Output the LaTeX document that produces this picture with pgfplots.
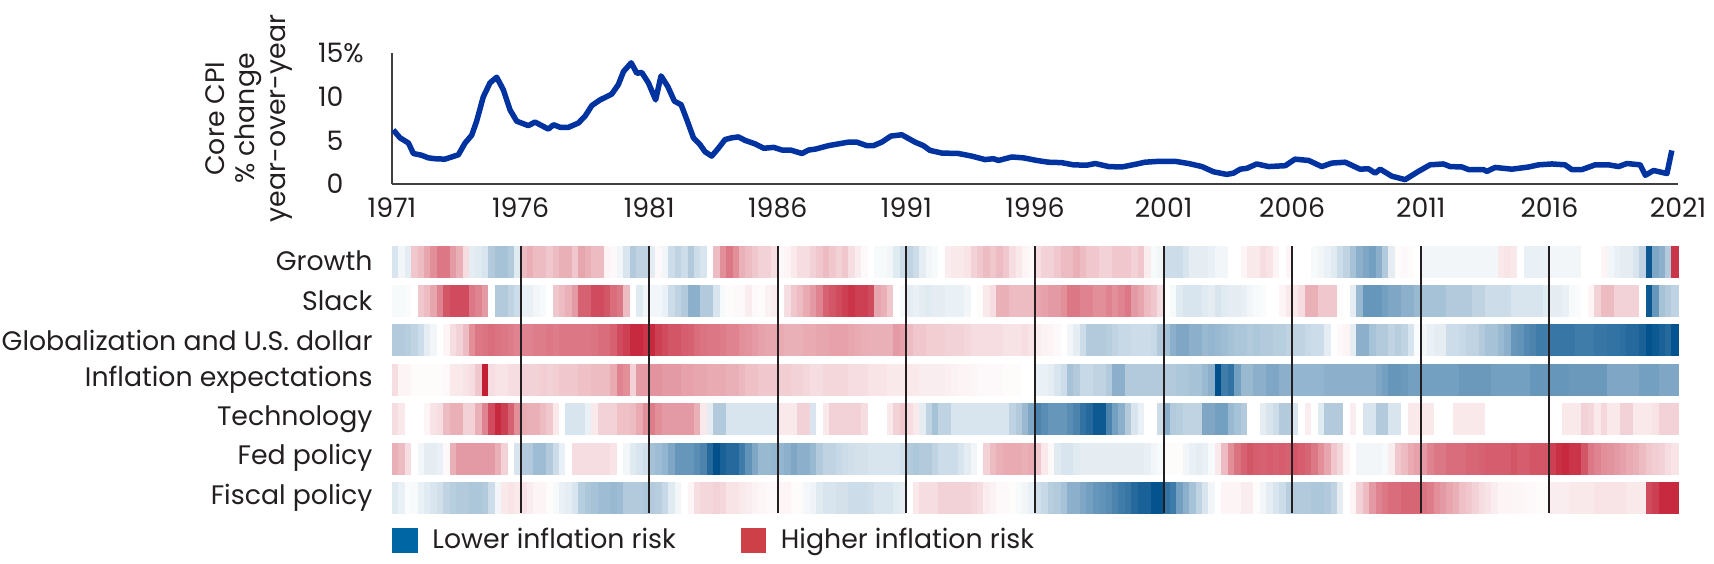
\documentclass[border=0pt]{standalone}
\usepackage{fontspec}
\setmainfont{Poppins}
\usepackage{pgfplots}
\usepackage{pgfplotstable}
\pgfplotsset{compat=1.18}
\definecolor{cpiblue}{RGB}{0,51,160}
\definecolor{lowblue}{RGB}{0,102,164}
\definecolor{highred}{RGB}{206,64,72}
\definecolor{txt}{RGB}{35,31,32}
\definecolor{axgray}{RGB}{64,64,64}

\pgfplotstableread{
g s gl ie te fe fi
-0.15 -0.03 -0.3 0.15 0.15 0.35 -0.12
-0.05 -0.03 -0.3 0.05 0.1 0.3 -0.08
-0.1 -0.02 -0.28 0.05 0 0.15 -0.02
0.25 0 -0.25 0.02 0 0 -0.03
0.3 0.25 -0.2 0.02 0 -0.05 -0.08
0.4 0.3 -0.1 0.02 0.05 -0.1 -0.12
0.5 0.4 -0.05 0.02 0.12 -0.1 -0.15
0.6 0.55 0 0.02 0.15 -0.08 -0.18
0.6 0.75 0.05 0.03 0.3 0.03 -0.25
0.45 0.8 0.15 0.1 0.35 0.35 -0.28
0.35 0.8 0.2 0.1 0.35 0.45 -0.3
0.15 0.8 0.3 0.12 0.2 0.45 -0.3
-0.1 0.6 0.5 0.15 0.2 0.45 -0.32
-0.12 0.55 0.6 0.25 0.35 0.45 -0.32
-0.15 0.45 0.62 1 0.55 0.45 -0.3
-0.3 0 0.65 0.15 0.8 0.45 -0.2
-0.35 -0.3 0.62 0.12 0.95 0.35 -0.05
-0.35 -0.3 0.6 0.12 0.85 0.2 0.1
-0.3 -0.25 0.58 0.15 0.7 0 0.12
-0.12 -0.2 0.55 0.15 0.5 -0.15 0.1
0.3 -0.08 0.55 0.2 0.38 -0.3 0.12
0.35 -0.08 0.55 0.2 0.35 -0.3 0.08
0.3 -0.05 0.58 0.2 0.35 -0.38 0.05
0.3 -0.03 0.58 0.22 0.3 -0.38 0.05
0.25 0 0.6 0.2 0.25 -0.3 0.02
0.3 0.25 0.58 0.22 0.1 -0.2 -0.03
0.35 0.3 0.6 0.25 0 -0.08 -0.08
0.35 0.35 0.6 0.25 -0.15 0 -0.1
0.25 0.45 0.6 0.25 -0.15 0.15 -0.15
0.4 0.7 0.6 0.28 -0.15 0.15 -0.28
0.35 0.7 0.6 0.28 -0.08 0.15 -0.32
0.3 0.8 0.62 0.3 0.1 0.15 -0.35
0.3 0.8 0.65 0.3 0.2 0.15 -0.38
0.05 0.75 0.65 0.3 0.2 0.15 -0.38
0.03 0.65 0.7 0.38 0.2 0.12 -0.4
-0.05 0.6 0.8 0.55 0.28 0 -0.38
-0.15 0.3 0.85 0.5 0.28 -0.05 -0.3
-0.3 0 0.95 0.2 0.3 -0.12 -0.3
-0.25 -0.12 0.95 0.45 0.38 -0.15 -0.3
-0.25 -0.05 0.9 0.45 0.5 -0.18 -0.32
-0.1 -0.05 0.95 0.48 0.58 -0.35 -0.3
0.03 -0.05 0.85 0.48 0.5 -0.38 -0.28
-0.05 -0.08 0.8 0.45 0.45 -0.42 -0.22
-0.2 -0.2 0.75 0.45 0.45 -0.5 -0.12
-0.25 -0.25 0.75 0.45 0.45 -0.6 -0.05
-0.2 -0.3 0.72 0.42 0.45 -0.6 0
-0.3 -0.45 0.7 0.42 0.45 -0.6 0.05
-0.2 -0.45 0.65 0.4 0.35 -0.65 0.15
-0.15 -0.3 0.62 0.4 0.1 -0.7 0.18
0 -0.3 0.6 0.38 -0.1 -0.85 0.18
0.3 -0.15 0.6 0.38 -0.3 -1 0.2
0.5 -0.03 0.58 0.38 -0.3 -0.9 0.18
0.6 0.02 0.55 0.35 -0.15 -0.85 0.12
0.5 0.03 0.55 0.35 -0.15 -0.85 0.12
0.35 0.03 0.5 0.32 -0.15 -0.75 0.1
0.3 0.08 0.48 0.28 -0.15 -0.62 0.08
0.25 0.03 0.45 0.28 -0.15 -0.5 0.06
0.2 0.02 0.42 0.25 -0.15 -0.4 0.04
0.2 0.06 0.4 0.25 -0.15 -0.4 0.03
0.15 0.08 0.4 0.25 -0.15 -0.42 0.03
0.03 0 0.38 0.22 0.1 -0.42 0.05
0.05 0.15 0.35 0.22 0.1 -0.45 0.05
0.1 0.25 0.35 0.2 0.1 -0.5 0.02
0.15 0.3 0.35 0.2 0.2 -0.45 0.02
0.15 0.38 0.38 0.18 0.2 -0.45 -0.04
0.2 0.45 0.38 0.15 -0.15 -0.4 -0.06
0.25 0.55 0.4 0.15 0 -0.3 -0.12
0.3 0.7 0.4 0.18 0.1 -0.25 -0.15
0.25 0.75 0.42 0.18 0.2 -0.25 -0.15
0.2 0.8 0.42 0.18 0.2 -0.22 -0.17
0.25 0.85 0.42 0.18 0.2 -0.2 -0.17
0.15 0.9 0.4 0.15 0.2 -0.18 -0.2
0.08 0.85 0.38 0.15 0.2 -0.17 -0.2
0.03 0.85 0.36 0.15 0.15 -0.17 -0.2
0 0.8 0.35 0.12 0 -0.15 -0.18
-0.03 0.4 0.35 0.12 0 -0.15 -0.15
-0.03 0.35 0.35 0.12 0 -0.15 -0.15
-0.05 0.25 0.35 0.1 0.1 -0.15 -0.15
-0.12 0 0.45 0.1 0.2 -0.15 -0.12
-0.2 -0.03 0.42 0.1 0.25 -0.18 -0.1
-0.25 -0.1 0.3 0.1 0.15 -0.3 0
-0.2 -0.08 0.25 0.1 0.1 -0.32 0.1
-0.1 -0.1 0.25 0.08 -0.1 -0.3 0.15
-0.05 -0.12 0.22 0.08 -0.25 -0.3 0.15
-0.03 -0.1 0.22 0.08 -0.35 -0.25 0.15
0 -0.1 0.22 0.08 -0.25 -0.2 0.2
0.08 -0.08 0.2 0.07 -0.25 -0.2 0.2
0.1 -0.08 0.2 0.06 -0.15 -0.2 0.2
0.1 -0.08 0.2 0.05 -0.15 -0.15 0.2
0.12 -0.05 0.18 0.05 -0.15 -0.1 0.2
0.2 0 0.15 0.04 -0.15 -0.05 0.18
0.25 0.02 0.15 0.03 -0.15 0 0.15
0.3 0.1 0.15 0.03 -0.15 0.2 0.08
0.25 0.15 0.15 0.03 -0.15 0.3 0.06
0.3 0.35 0.15 0.03 -0.15 0.35 0.03
0.25 0.35 0.13 0.02 -0.15 0.38 0.03
0.15 0.3 0.13 0.02 -0.25 0.38 0.02
0.1 0.3 0.13 0.02 -0.3 0.38 -0.03
0.05 0.3 0.15 0 -0.4 0.35 -0.05
0.03 0.3 0.12 0 -0.5 0.38 -0.08
0.15 0.4 0.08 -0.08 -0.7 0.25 -0.18
0.2 0.42 0.06 -0.08 -0.65 0.1 -0.22
0.2 0.45 0.05 -0.1 -0.6 0.03 -0.28
0.25 0.45 0.03 -0.15 -0.6 -0.12 -0.3
0.3 0.5 0 -0.2 -0.6 -0.15 -0.35
0.3 0.6 -0.05 -0.35 -0.65 -0.15 -0.45
0.35 0.6 -0.1 -0.3 -0.7 -0.12 -0.45
0.3 0.55 -0.2 -0.22 -0.8 -0.1 -0.5
0.25 0.55 -0.3 -0.22 -0.85 -0.1 -0.55
0.25 0.5 -0.3 -0.25 -0.95 -0.1 -0.6
0.2 0.5 -0.3 -0.25 -0.95 -0.1 -0.62
0.2 0.55 -0.28 -0.3 -0.7 -0.1 -0.65
0.25 0.5 -0.25 -0.45 -0.55 -0.1 -0.7
0.25 0.55 -0.22 -0.45 -0.45 -0.1 -0.75
0.25 0.6 -0.22 -0.3 -0.3 -0.1 -0.78
0.2 0.45 -0.2 -0.3 -0.15 -0.1 -0.85
0.25 0.4 -0.2 -0.3 -0.08 -0.1 -0.9
0.08 0.3 -0.2 -0.3 0 -0.08 -0.9
-0.03 0.25 -0.22 -0.3 0 -0.05 -0.98
-0.05 0.15 -0.3 -0.3 -0.2 -0.03 -0.98
-0.2 0 -0.35 -0.3 -0.45 0.02 -0.8
-0.2 -0.03 -0.45 -0.3 -0.3 0.02 -0.75
-0.2 -0.12 -0.5 -0.32 -0.28 0.02 -0.55
-0.15 -0.15 -0.5 -0.32 -0.25 -0.05 -0.45
-0.1 -0.15 -0.45 -0.35 -0.25 -0.08 -0.35
-0.1 -0.15 -0.45 -0.35 -0.25 -0.1 -0.25
-0.1 -0.12 -0.4 -0.4 -0.5 -0.08 -0.15
-0.08 -0.1 -0.42 -0.45 -0.5 -0.03 -0.05
-0.05 -0.15 -0.4 -1 -0.55 0.1 0
-0.05 -0.12 -0.38 -0.75 -0.55 0.3 0.05
0 -0.1 -0.35 -0.8 -0.4 0.5 0.05
0 -0.1 -0.33 -0.55 -0.35 0.62 0.05
0.05 -0.08 -0.33 -0.4 -0.3 0.7 0.08
0.1 -0.05 -0.3 -0.4 0 0.75 0.08
0.1 -0.03 -0.32 -0.45 0 0.72 0.02
0.15 -0.02 -0.3 -0.45 -0.1 0.7 -0.05
0.12 0 -0.3 -0.5 -0.15 0.72 -0.1
0.05 0 -0.28 -0.5 -0.2 0.7 -0.15
0 0.05 -0.28 -0.45 -0.3 0.72 -0.2
0.05 0.1 -0.25 -0.45 -0.3 0.7 -0.28
0 0.1 -0.25 -0.42 -0.15 0.75 -0.3
0 0.15 -0.25 -0.42 0 0.72 -0.3
0 0.35 -0.22 -0.42 0.08 0.68 -0.3
-0.03 0.35 -0.2 -0.42 0 0.6 -0.32
-0.05 0.25 -0.2 -0.42 -0.12 0.5 -0.32
-0.08 0.25 -0.1 -0.45 -0.3 0.4 -0.3
-0.12 0.25 0 -0.45 -0.3 0.25 -0.25
-0.2 0.02 0.03 -0.45 -0.3 0.18 -0.1
-0.25 0 0.05 -0.45 0 0.05 0
-0.35 -0.1 -0.1 -0.45 0.08 0 0.05
-0.45 -0.4 -0.45 -0.45 0 -0.05 0.2
-0.5 -0.6 -0.45 -0.45 -0.15 -0.05 0.3
-0.55 -0.6 -0.35 -0.45 -0.15 -0.05 0.45
-0.45 -0.6 -0.3 -0.5 -0.3 -0.05 0.55
-0.3 -0.55 -0.3 -0.55 -0.3 -0.03 0.6
-0.1 -0.5 -0.25 -0.6 -0.15 0.08 0.65
0.02 -0.5 -0.28 -0.6 -0.15 0.25 0.65
0.03 -0.45 -0.25 -0.58 0 0.3 0.68
0.02 -0.45 -0.15 -0.55 0.1 0.38 0.68
0 -0.4 -0.02 -0.55 0.1 0.42 0.68
-0.05 -0.35 -0.05 -0.55 0.1 0.45 0.62
-0.05 -0.35 -0.08 -0.55 0.1 0.55 0.58
-0.05 -0.35 -0.1 -0.55 0 0.6 0.5
-0.05 -0.35 -0.1 -0.55 0 0.6 0.45
-0.05 -0.3 -0.2 -0.55 0 0.65 0.4
-0.05 -0.3 -0.2 -0.55 0.1 0.65 0.35
-0.05 -0.3 -0.22 -0.58 0.1 0.65 0.28
-0.05 -0.3 -0.25 -0.58 0.1 0.68 0.25
-0.05 -0.25 -0.25 -0.58 0.1 0.68 0.2
-0.05 -0.25 -0.3 -0.58 0.1 0.7 0.15
-0.05 -0.2 -0.35 -0.58 0 0.72 0.12
-0.05 -0.2 -0.35 -0.55 0 0.72 0.08
0.1 -0.2 -0.4 -0.55 0 0.72 0.05
0.12 -0.2 -0.45 -0.55 0 0.72 0.05
0.1 -0.15 -0.6 -0.55 0 0.75 0.04
0 -0.15 -0.62 -0.55 0 0.72 0.04
-0.08 -0.15 -0.68 -0.55 0 0.72 0.03
-0.08 -0.15 -0.7 -0.6 0 0.75 0.03
-0.08 -0.15 -0.75 -0.6 0 0.75 0.02
-0.08 -0.12 -0.75 -0.6 0 0.75 0.02
-0.05 -0.1 -0.78 -0.6 0 0.85 0.08
-0.05 -0.1 -0.78 -0.6 0 0.92 0.08
-0.05 -0.08 -0.78 -0.6 0.1 0.95 0.08
-0.05 -0.03 -0.78 -0.58 0.1 0.9 0.1
-0.05 -0.02 -0.75 -0.58 0.1 0.9 0.1
0 0 -0.75 -0.58 0.2 0.75 0.1
0 0.05 -0.75 -0.58 0.18 0.6 0.1
0 0.2 -0.78 -0.58 0.1 0.55 0.12
0.05 0.3 -0.78 -0.58 0.18 0.5 0.12
-0.05 0.3 -0.8 -0.5 0.1 0.48 0.12
-0.08 0.2 -0.8 -0.5 0.1 0.45 0.12
-0.1 0.2 -0.82 -0.5 0.2 0.42 0.12
-0.1 0.2 -0.85 -0.5 0.2 0.38 0.1
-0.15 0.2 -0.85 -0.5 0.1 0.35 0.1
-0.25 0 -0.9 -0.55 0.1 0.3 0.1
-0.95 -0.95 -0.98 -0.55 0.1 0.25 0.8
-0.5 -0.6 -0.95 -0.55 0.12 0.22 0.85
-0.45 -0.35 -0.9 -0.5 0.2 0.2 0.95
-0.3 -0.3 -0.85 -0.5 0.2 0.15 0.95
0.9 -0.25 -0.98 -0.5 0.2 0.12 0.95
}\heat

\begin{document}
\begin{tikzpicture}[font=\fontsize{10.7}{12.2}\selectfont, text=txt]
\useasboundingbox (0,0) rectangle (685.6pt,225.2pt);
\begin{axis}[
  at={(156.8pt,151.6pt)}, anchor=south west,
  scale only axis, width=514.4pt, height=52.3pt,
  xmin=1971, xmax=2021, ymin=0, ymax=15,
  axis lines=left, axis line style={-, draw=axgray, line width=0.5pt},
  xtick={1971,1976,...,2021},
  xticklabels={1971,1976,1981,1986,1991,1996,2001,2006,2011,2016,2021},
  ytick={0,5,10,15}, yticklabels={0,5,10,15\rlap{\%}},
  major tick length=0pt,
  xticklabel style={yshift=-2pt},
  yticklabel style={anchor=east, inner sep=0pt, xshift=-19.2pt},
  clip=false,
]
\addplot[cpiblue, line width=2.2pt, line join=round] coordinates {
(1971.05,6.2)(1971.31,5.3)(1971.64,4.7)(1971.83,3.5)(1972.15,3.3)(1972.41,3.0)(1972.67,2.9)(1973.06,2.85)(1973.58,3.35)(1973.84,4.7)(1974.1,5.6)(1974.29,7.2)(1974.55,10.0)(1974.81,11.6)(1975.07,12.25)(1975.33,10.8)(1975.59,8.5)(1975.85,7.2)(1976.30,6.7)(1976.56,7.1)(1976.82,6.7)(1977.08,6.3)(1977.28,6.8)(1977.54,6.5)(1977.86,6.5)(1978.25,7.0)(1978.51,7.8)(1978.77,9.0)(1979.09,9.65)(1979.54,10.3)(1979.80,11.4)(1980.0,12.9)(1980.30,13.9)(1980.52,12.7)(1980.71,12.8)(1980.97,11.6)(1981.25,9.65)(1981.46,12.4)(1981.72,11.2)(1981.98,9.5)(1982.24,9.1)(1982.46,7.4)(1982.72,5.3)(1982.98,4.5)(1983.17,3.7)(1983.43,3.2)(1983.69,4.1)(1983.95,5.1)(1984.21,5.3)(1984.47,5.4)(1984.73,5.0)(1985.12,4.6)(1985.45,4.1)(1985.84,4.2)(1986.16,3.9)(1986.49,3.9)(1986.94,3.5)(1987.2,3.9)(1987.46,4.0)(1987.97,4.4)(1988.74,4.8)(1989.07,4.8)(1989.46,4.4)(1989.72,4.4)(1990.04,4.8)(1990.4,5.5)(1990.82,5.65)(1991.34,4.8)(1991.66,4.4)(1991.92,3.85)(1992.38,3.55)(1993.02,3.5)(1993.54,3.2)(1994.06,2.8)(1994.38,2.9)(1994.58,2.7)(1995.1,3.1)(1995.55,3.0)(1996.07,2.7)(1996.52,2.5)(1997.04,2.45)(1997.49,2.2)(1998.01,2.15)(1998.34,2.35)(1998.86,2.0)(1999.37,1.95)(1999.89,2.25)(2000.28,2.5)(2000.8,2.6)(2001.45,2.6)(2001.97,2.35)(2002.49,2.0)(2002.94,1.4)(2003.46,1.1)(2003.72,1.25)(2003.98,1.7)(2004.24,1.8)(2004.62,2.3)(2005.08,2.0)(2005.73,2.1)(2006.11,2.85)(2006.64,2.7)(2007.15,2.0)(2007.54,2.4)(2008.06,2.5)(2008.64,1.7)(2008.96,1.75)(2009.23,1.25)(2009.42,1.7)(2009.87,0.9)(2010.39,0.5)(2010.91,1.45)(2011.36,2.2)(2011.88,2.3)(2012.14,2.0)(2012.6,1.95)(2012.86,1.65)(2013.44,1.65)(2013.57,1.45)(2013.89,1.9)(2014.54,1.7)(2015.19,1.95)(2015.58,2.2)(2016.1,2.3)(2016.61,2.2)(2016.87,1.65)(2017.26,1.65)(2017.78,2.2)(2018.3,2.2)(2018.69,2.0)(2019.01,2.35)(2019.53,2.2)(2019.73,1.0)(2020.05,1.55)(2020.57,1.2)(2020.76,3.85)
};
\node[rotate=90, align=center, anchor=center, font=\fontsize{10.7}{12.2}\selectfont] at ([xshift=-57.2pt]rel axis cs:0,0.5) {Core CPI\\\% change\\year-over-year};
\end{axis}
\begin{axis}[
  at={(156.8pt,19.96pt)}, anchor=south west,
  scale only axis, width=514.4pt, height=106.96pt,
  xmin=-0.5, xmax=199.5, ymin=-0.393, ymax=6.393,
  axis lines=left, axis line style={draw=none},
  xtick=\empty,
  ytick={0,...,6},
  yticklabels={Fiscal policy,Fed policy,Technology,Inflation expectations,Globalization and U.S. dollar,Slack,Growth},
  major tick length=0pt,
  yticklabel style={anchor=east, inner sep=0pt, xshift=-7.6pt},
  colormap={risk}{rgb255(0cm)=(0,80,140); rgb255(1cm)=(255,255,255); rgb255(2cm)=(196,30,52)},
  point meta min=-1, point meta max=1,
  legend style={draw=none, fill=none, at={(0,0)}, anchor=west, yshift=-10.76pt, legend columns=2, inner sep=0pt,
    /tikz/every odd column/.append style={column sep=4pt},
    /tikz/every even column/.append style={column sep=24pt}},
  legend cell align=left,
  every heat/.style={scatter, only marks, mark=square*, mark size=1pt,
    mark options={xscale=1.3, yscale=6.2, line width=0.1pt},
    scatter/use mapped color={draw=mapped color, fill=mapped color},
    scatter src=explicit, forget plot},
]
\addplot[every heat] table[x expr=\coordindex, y expr=6, meta=g] {\heat};
\addplot[every heat] table[x expr=\coordindex, y expr=5, meta=s] {\heat};
\addplot[every heat] table[x expr=\coordindex, y expr=4, meta=gl] {\heat};
\addplot[every heat] table[x expr=\coordindex, y expr=3, meta=ie] {\heat};
\addplot[every heat] table[x expr=\coordindex, y expr=2, meta=te] {\heat};
\addplot[every heat] table[x expr=\coordindex, y expr=1, meta=fe] {\heat};
\addplot[every heat] table[x expr=\coordindex, y expr=0, meta=fi] {\heat};
\addlegendimage{legend image code/.code={\fill[lowblue] (0pt,-4.8pt) rectangle (9.6pt,4.8pt);}}
\addlegendentry{Lower inflation risk}
\addlegendimage{legend image code/.code={\fill[highred] (0pt,-4.8pt) rectangle (9.6pt,4.8pt);}}
\addlegendentry{Higher inflation risk}
\end{axis}
% separators drawn on top of the heatmap: a second, empty axis with the same frame
\begin{axis}[
  at={(156.8pt,19.96pt)}, anchor=south west,
  scale only axis, width=514.4pt, height=106.96pt,
  xmin=-0.5, xmax=199.5, ymin=-0.393, ymax=6.393,
  axis lines=left, axis line style={draw=none},
  xtick={19.5,39.5,...,179.5}, xticklabels={}, ytick=\empty,
  major tick length=0pt,
  xmajorgrids, major grid style={txt, line width=0.8pt},
]
\end{axis}
\end{tikzpicture}
\end{document}
